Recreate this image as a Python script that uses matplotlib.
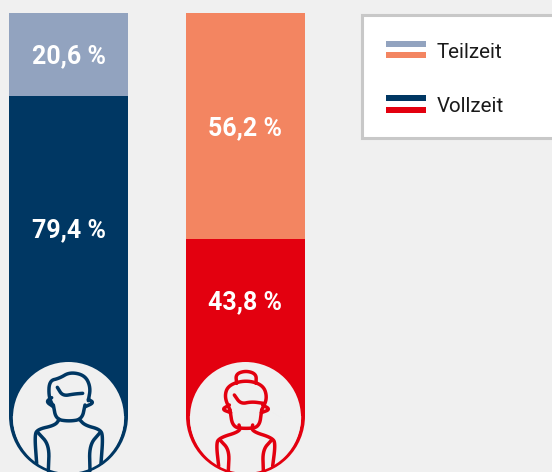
import numpy as np
import matplotlib
matplotlib.use('Agg')
import matplotlib.pyplot as plt
from matplotlib.patches import Circle, Rectangle, Wedge

plt.rcParams['font.family'] = ['Roboto', 'DejaVu Sans']

groups = ['Männer', 'Frauen']
teilzeit = [20.6, 56.2]
vollzeit = [79.4, 43.8]
labels_teil = ['20,6 %', '56,2 %']
labels_voll = ['79,4 %', '43,8 %']
legend_labels = ['Teilzeit', 'Vollzeit']

navy = '#003763'
red = '#e3000f'
light_navy = '#92a3bf'
light_red = '#f38561'
bg = '#f0f0f0'

W, H = 552, 472
fig = plt.figure(figsize=(W / 100, H / 100), dpi=100, facecolor=bg)

# bars: y axis runs 0-100 % between pixel rows 416 and 13
ax = fig.add_axes([0, (H - 416) / H, 1, 403 / H])
ax.set_xlim(0, W)
ax.set_ylim(0, 100)
ax.axis('off')
centers = [68.5, 245.5]
icon_top = 13.4  # part of the lower bar hidden by the round icon
ax.bar(centers, vollzeit, width=119, color=[navy, red], linewidth=0)
ax.bar(centers, teilzeit, width=119, bottom=vollzeit, color=[light_navy, light_red], linewidth=0)
for i in range(2):
    ax.text(centers[i], vollzeit[i] + teilzeit[i] / 2 - 0.45, labels_teil[i], color='white',
            fontsize=18, fontweight='bold', ha='center', va='center')
    ax.text(centers[i], (vollzeit[i] + icon_top) / 2 - 0.3, labels_voll[i], color='white',
            fontsize=18, fontweight='bold', ha='center', va='center')

# overlay in pixel coordinates for icons and legend
ov = fig.add_axes([0, 0, 1, 1])
ov.set_xlim(0, W)
ov.set_ylim(H, 0)
ov.axis('off')
ov.patch.set_alpha(0)


def smooth(points, n=3):
    pts = np.array(points, dtype=float)
    for _ in range(n):
        q = 0.75 * pts[:-1] + 0.25 * pts[1:]
        r = 0.25 * pts[:-1] + 0.75 * pts[1:]
        mid = np.empty((len(q) * 2, 2))
        mid[0::2] = q
        mid[1::2] = r
        pts = np.vstack([pts[0], mid, pts[-1]])
    return pts


def draw_icon(strokes, x0, color):
    for s in strokes:
        p = smooth(s) / 3 + [x0, 350]
        ov.plot(p[:, 0], p[:, 1], color=color, lw=2.5, solid_capstyle='round', zorder=5)


for cx, col in zip(centers, [navy, red]):
    ov.add_patch(Wedge((cx, 416), 59.5, 0, 180, width=3.8, color=col, lw=0, zorder=2))
    ov.add_patch(Circle((cx, 417.5), 55.5, color=bg, lw=0, zorder=3))

# icon strokes in zoomed crop coordinates
man = [
    [(160, 170), (146, 140), (148, 92), (178, 85), (210, 66), (255, 76), (272, 112), (265, 152)],
    [(172, 112), (188, 138), (222, 132), (248, 130)],
    [(155, 143), (138, 155), (160, 170)],
    [(265, 148), (282, 158), (256, 170)],
    [(160, 165), (168, 208), (207, 214), (246, 208), (255, 165)],
    [(178, 208), (165, 226), (112, 238), (104, 258), (110, 340)],
    [(238, 208), (255, 226), (300, 238), (309, 258), (303, 340)],
    [(114, 248), (148, 285), (145, 362)],
    [(300, 248), (268, 285), (270, 362)],
]
woman = [
    [(180, 180), (163, 140), (175, 105), (228, 90), (280, 105), (292, 145), (275, 180)],
    [(200, 100), (197, 72), (228, 62), (259, 72), (258, 100)],
    [(193, 135), (212, 162), (245, 155), (280, 160)],
    [(178, 165), (155, 178), (182, 188)],
    [(278, 165), (301, 178), (274, 188)],
    [(180, 180), (188, 232), (228, 236), (268, 232), (275, 180)],
    [(207, 225), (212, 244), (146, 264), (139, 285), (146, 348)],
    [(248, 225), (245, 244), (309, 264), (316, 285), (308, 348)],
    [(150, 270), (178, 300), (175, 362)],
    [(305, 270), (278, 300), (280, 362)],
]
draw_icon(man, 0, navy)
draw_icon(woman, 170, red)

# legend box
ov.add_patch(Rectangle((362, 14.5), 200, 123.5, facecolor='white', edgecolor='#c8c8c8', lw=2.2, zorder=2))
swatches = [(41, 5.5, light_navy), (52, 5.5, light_red), (95, 5.5, navy), (107, 5.5, red)]
for y, h, c in swatches:
    ov.add_patch(Rectangle((386, y), 40, h, facecolor=c, lw=0, zorder=3))
for lab, y in zip(legend_labels, [52, 107]):
    ov.text(436.5, y, lab, fontsize=14.8, color='#1a1a1a', ha='left', va='center', zorder=4)

fig.savefig('out.png', dpi=100, facecolor=bg)
